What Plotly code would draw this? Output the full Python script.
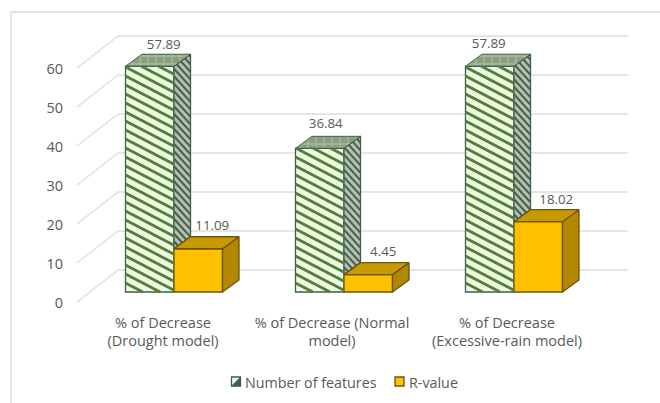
import plotly.graph_objects as go

# Chart values
categories = ["% of Decrease<br>(Drought model)", "% of Decrease (Normal<br>model)", "% of Decrease<br>(Excessive-rain model)"]
features = [57.89, 36.84, 57.89]
r_values = [11.09, 4.45, 18.02]
y_ticks = [0, 10, 20, 30, 40, 50, 60]
series_names = ["Number of features", "R-value"]
feature_label_shift = [(14, 21), (6, 24), (-1, 22)]
r_label_shift = [(14, 22), (15, 22), (18, 21)]
category_label_shift = [-11, -12, -7]

# Pixel geometry of the oblique projection
PX_PER_CAT = 170.0
PX_PER_UNIT = 3.9
BAR_PX = 48.5
DEPTH_X, DEPTH_Y = 16.5, 12.0
WALL_X, WALL_Y = 29.0, 22.0
FRONT_X, FRONT_Y = 12.0, 10.0
ORIGIN_X, ORIGIN_Y = 174.0, 292.0
L, R, T, B = 64, 20, 20, 98
W, H = 660, 403

def xd(px):
    return px / PX_PER_CAT

def yd(px):
    return px / PX_PER_UNIT

bar_w = xd(BAR_PX)
dx, dy = xd(DEPTH_X), yd(DEPTH_Y)
idx = list(range(len(features)))

FONT = "Open Sans, Noto Sans, sans-serif"
TEXT = "#595959"
GRID = "#dedede"
GREEN_EDGE = "#3f5c50"
GREEN_STRIPE = "#517f38"
GREEN_BG = "#eef9e2"
SIDE_BG = "#b4c0b0"
SIDE_STRIPE = "#44604a"
GOLD = "#ffc000"
GOLD_SIDE = "#b38700"
GOLD_TOP = "#c99a00"
GOLD_EDGE = "#6b5510"


def stripes(x0, x1, y_bottom, y_top, skew, px_gap, slope_px=0.55):
    """Diagonal hatch lines clipped to a parallelogram whose vertical edges
    sit at x0 and x1; skew is the rise of its top and bottom edges over that span."""
    xs, ys = [], []
    gap = yd(px_gap)
    span = x1 - x0
    drop = yd(slope_px * span * PX_PER_CAT)
    level = y_bottom
    while level < y_top + drop + skew + gap:
        a, b = 0.0, 1.0
        rate = drop + skew
        if rate > 0:
            a = max(a, (level - y_top) / rate)
            b = min(b, (level - y_bottom) / rate)
        if a < b:
            xs += [x0 + a * span, x0 + b * span, None]
            ys += [level - a * drop, level - b * drop, None]
        level += gap
    return xs, ys


def paper_x(px):
    return (px - L) / (W - L - R)


def paper_y(py):
    return (H - B - py) / (H - T - B)


fig = go.Figure()

# Back wall and left wall grid lines sit beneath every trace
shapes = []
left_front = xd(77 - ORIGIN_X)
left_back = xd(118 - ORIGIN_X)
right_back = xd(628 - ORIGIN_X)
for v in y_ticks:
    wall = v + yd(WALL_Y)
    front = v - yd(FRONT_Y)
    line = dict(color=GRID, width=1.3)
    shapes.append(dict(type="line", xref="x", yref="y", x0=left_back, x1=right_back, y0=wall, y1=wall, line=line, layer="below"))
    shapes.append(dict(type="line", xref="x", yref="y", x0=left_front, x1=left_back, y0=front, y1=wall, line=line, layer="below"))

# Chart area border: only the top and left edges remain
edge = dict(color="#d9d9d9", width=1.3)
shapes.append(dict(type="line", xref="paper", yref="paper", x0=paper_x(11), x1=paper_x(660), y0=paper_y(12), y1=paper_y(12), line=edge, layer="below"))
shapes.append(dict(type="line", xref="paper", yref="paper", x0=paper_x(11), x1=paper_x(11), y0=paper_y(403), y1=paper_y(12), line=edge, layer="below"))

# Key below the plot: swatches with their series names
shapes.append(dict(type="rect", xref="paper", yref="paper", x0=paper_x(231.5), x1=paper_x(240.5), y0=paper_y(386), y1=paper_y(377),
                   fillcolor=GREEN_BG, line=dict(color=GREEN_EDGE, width=1.3)))
shapes.append(dict(type="path", xref="paper", yref="paper",
                   path=f"M {paper_x(231.5)} {paper_y(386)} L {paper_x(240.5)} {paper_y(377)} L {paper_x(240.5)} {paper_y(386)} Z",
                   fillcolor=GREEN_EDGE, line=dict(color=GREEN_EDGE, width=0.5)))
shapes.append(dict(type="rect", xref="paper", yref="paper", x0=paper_x(395), x1=paper_x(404), y0=paper_y(386), y1=paper_y(377),
                   fillcolor=GOLD, line=dict(color=GOLD_EDGE, width=1.3)))
key_annotations = [
    dict(xref="paper", yref="paper", x=paper_x(243), y=paper_y(382), text=series_names[0], xanchor="left", yanchor="middle",
         showarrow=False, font=dict(family=FONT, size=14.3, color=TEXT)),
    dict(xref="paper", yref="paper", x=paper_x(407), y=paper_y(382), text=series_names[1], xanchor="left", yanchor="middle",
         showarrow=False, font=dict(family=FONT, size=14.3, color=TEXT)),
]

# Front faces
fig.add_trace(go.Bar(x=idx, y=features, width=bar_w, offset=-bar_w, name=series_names[0], showlegend=False,
                     marker=dict(color=GREEN_BG, line=dict(color=GREEN_EDGE, width=1.3)), hoverinfo="skip"))
fig.add_trace(go.Bar(x=idx, y=r_values, width=bar_w, offset=0, name=series_names[1], showlegend=False,
                     marker=dict(color=GOLD, line=dict(color=GOLD_EDGE, width=1.3)), hoverinfo="skip"))

hx, hy, sx, sy = [], [], [], []
for i, (f, r) in enumerate(zip(features, r_values)):
    # Side face of the hatched bar, resting on the neighbouring gold top
    fig.add_trace(go.Scatter(x=[i, i + dx, i + dx, i, i], y=[f, f + dy, r + dy, r, f], fill="toself",
                             fillcolor=SIDE_BG, mode="lines", line=dict(color=GREEN_EDGE, width=1.3),
                             showlegend=False, hoverinfo="skip"))
    # Top face of the hatched bar
    fig.add_trace(go.Scatter(x=[i - bar_w, i, i + dx, i - bar_w + dx, i - bar_w], y=[f, f, f + dy, f + dy, f],
                             fill="toself", mode="lines", line=dict(color=GREEN_EDGE, width=1),
                             fillpattern=dict(shape="+", fgcolor="#c9d5bc", bgcolor="#8aa07f", size=8, solidity=0.3),
                             showlegend=False, hoverinfo="skip"))
    xs, ys = stripes(i - bar_w, i, 0, f, 0, 9.0, slope_px=0.52)
    hx += xs
    hy += ys
    xs, ys = stripes(i, i + dx, r, f, dy, 7.5, slope_px=1.1)
    sx += xs
    sy += ys
    # Gold side and top faces
    fig.add_trace(go.Scatter(x=[i + bar_w, i + bar_w + dx, i + bar_w + dx, i + bar_w, i + bar_w],
                             y=[0, dy, r + dy, r, 0], fill="toself", fillcolor=GOLD_SIDE, mode="lines",
                             line=dict(color=GOLD_EDGE, width=1.3), showlegend=False, hoverinfo="skip"))
    fig.add_trace(go.Scatter(x=[i, i + bar_w, i + bar_w + dx, i + dx, i], y=[r, r, r + dy, r + dy, r],
                             fill="toself", fillcolor=GOLD_TOP, mode="lines",
                             line=dict(color=GOLD_EDGE, width=1.3), showlegend=False, hoverinfo="skip"))

fig.add_trace(go.Scatter(x=hx, y=hy, mode="lines", line=dict(color=GREEN_STRIPE, width=2.8),
                         showlegend=False, hoverinfo="skip"))
fig.add_trace(go.Scatter(x=sx, y=sy, mode="lines", line=dict(color=SIDE_STRIPE, width=2),
                         showlegend=False, hoverinfo="skip"))

# Value labels above each bar
lab_x = [i - bar_w / 2 + xd(s[0]) for i, s in zip(idx, feature_label_shift)] + \
        [i + bar_w / 2 + xd(s[0]) for i, s in zip(idx, r_label_shift)]
lab_y = [v + yd(s[1]) for v, s in zip(features, feature_label_shift)] + \
        [v + yd(s[1]) for v, s in zip(r_values, r_label_shift)]
lab_t = [f"{v:.2f}" for v in features + r_values]
fig.add_trace(go.Scatter(x=lab_x, y=lab_y, text=lab_t, mode="text", textposition="middle center",
                         textfont=dict(family=FONT, size=13.3, color=TEXT), showlegend=False, hoverinfo="skip"))

fig.update_layout(
    width=W, height=H, autosize=False, barmode="overlay", showlegend=False,
    margin=dict(l=L, r=R, t=T, b=B, pad=0),
    paper_bgcolor="white", plot_bgcolor="rgba(0,0,0,0)",
    shapes=shapes, annotations=key_annotations,
    font=dict(family=FONT, size=12, color=TEXT),
    xaxis=dict(range=[xd(L - ORIGIN_X), xd(W - R - ORIGIN_X)], showgrid=False, zeroline=False, showline=False,
               tickmode="array", tickvals=[i + xd(s) for i, s in zip(idx, category_label_shift)], ticktext=categories,
               ticks="", tickfont=dict(family=FONT, size=14.5, color=TEXT), ticklabelstandoff=7),
    yaxis=dict(range=[yd(ORIGIN_Y - (H - B)), yd(ORIGIN_Y - T)], showgrid=False, zeroline=False, showline=False,
               tickmode="array", tickvals=[v - yd(10.5) for v in y_ticks], ticktext=[str(v) for v in y_ticks],
               ticks="", tickfont=dict(family=FONT, size=14.5, color=TEXT)),
)

fig.write_html("out.html")
